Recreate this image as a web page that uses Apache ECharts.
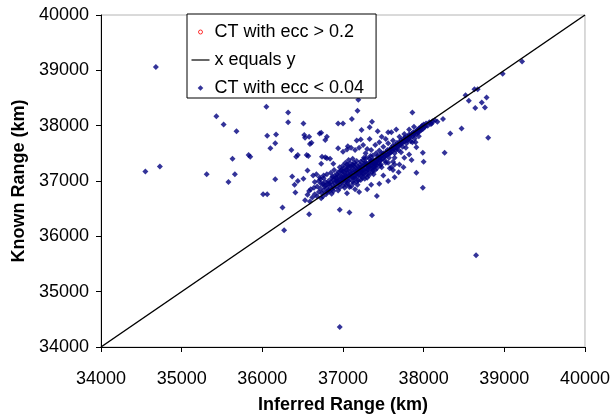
<!DOCTYPE html>
<html>
<head>
<meta charset="utf-8">
<script src="https://cdn.jsdelivr.net/npm/echarts@6/dist/echarts.min.js"></script>
<style>
  html, body { margin: 0; padding: 0; background: #fff; }
  #chart { width: 613px; height: 419px; }
</style>
</head>
<body>
<div id="chart"></div>
<script>
// axis ticks (km)
const xTicks = [34000, 35000, 36000, 37000, 38000, 39000, 40000];
const yTicks = [34000, 35000, 36000, 37000, 38000, 39000, 40000];

// reference line x = y
const lineEnds = [[34000, 34000], [40000, 40000]];

// CT with ecc > 0.2 (nothing visible inside the plotted range)
const ctHighEcc = [];

// CT with ecc < 0.04 -- [inferred, known]
// scattered points away from the main band
const outerPoints = [
  [34680, 39060], [34550, 37170], [34730, 37260], [35430, 38170], [35520, 38020],
  [35680, 37900], [35310, 37120], [35580, 36980], [35660, 37120], [35630, 37400],
  [35830, 37470], [35850, 37440], [36050, 38340], [36320, 38240], [36320, 38060],
  [36060, 37820], [36170, 37840], [36100, 37590], [36160, 37680], [36160, 37030],
  [36010, 36760], [36060, 36760], [36250, 36520], [36270, 36110], [36510, 38040],
  [36580, 37800], [36530, 37780], [36590, 37670], [36710, 37860], [36800, 37800],
  [36360, 37560], [36440, 37470], [36420, 37440], [36370, 37080], [36400, 36930],
  [36440, 37000], [36510, 37040], [36940, 38040], [37000, 38040], [37110, 38120],
  [37190, 38470], [37180, 38270], [37230, 37920], [37360, 38070], [37330, 37970],
  [37430, 37900], [37860, 38240], [38240, 38120], [38100, 38040], [38470, 37950],
  [38330, 37860], [38520, 38550], [38630, 38660], [38670, 38660], [38560, 38450],
  [36730, 37870], [36520, 37830], [36610, 37690], [36780, 37740], [37220, 37750],
  [37170, 37730], [37330, 37760], [37560, 37880], [37600, 37880], [37660, 37930],
  [37900, 37700], [37910, 37610], [37990, 37510], [38260, 37510], [38000, 37350],
  [37910, 37150], [37990, 36880], [37640, 37070], [37560, 37000], [37420, 36730],
  [37360, 36380], [37080, 36430], [36960, 36480], [36580, 36400], [36730, 36690],
  [36750, 36720], [38650, 35660], [36960, 34360], [38800, 37780], [38780, 38510],
  [38760, 38330], [38980, 38940], [39220, 39160], [38720, 38420], [38640, 38320]
];

// halo of points on both sides of the band
const haloPoints = [
  [36570, 37450], [36560, 37190], [36730, 37310], [36780, 37430], [36840, 37400],
  [36880, 37310], [36630, 37100], [36670, 37120], [36710, 37070], [36760, 37100],
  [36800, 37120], [36650, 36980], [36730, 36950], [36780, 36920], [36410, 36790],
  [36530, 36650], [36590, 36630], [36820, 36830], [36860, 36770], [36550, 37470],
  [36740, 37440], [36800, 37410], [36940, 37590], [37000, 37530], [37050, 37570],
  [37150, 37560], [37200, 37600], [37300, 37580], [37060, 37630], [37100, 37600],
  [37250, 37650], [37400, 37650], [37450, 37700], [37350, 37560], [37280, 37500],
  [37480, 37800], [37530, 37760], [37300, 36850], [37200, 36800], [37450, 36950],
  [37350, 36930], [37500, 37100], [37150, 36850], [37050, 36780], [37700, 37300],
  [37760, 37420], [37820, 37480], [37850, 37380], [37620, 37200], [37690, 37160],
  [37750, 37250], [37620, 37350], [37640, 37300], [37600, 37250], [37580, 37230],
  [36700, 37000], [36680, 36900], [36720, 37030], [36760, 37050], [36600, 36850],
  [36640, 36880], [36560, 36750], [36580, 36820]
];

// dense band, lower part
const coreLower = [
  [36620, 36700], [36650, 36760], [36680, 36720], [36700, 36800], [36720, 36860],
  [36740, 36780], [36760, 36830], [36770, 36900], [36790, 36760], [36800, 36870],
  [36810, 36950], [36830, 36810], [36840, 36900], [36850, 36980], [36860, 36850],
  [36870, 36930], [36880, 37020], [36890, 36880], [36900, 36960], [36910, 37060],
  [36920, 36900], [36930, 37000], [36940, 36830], [36950, 37090], [36960, 36940],
  [36970, 37030], [36980, 36980], [36990, 37130], [37000, 36920], [36980, 37200],
  [36940, 37160], [36900, 37100], [36860, 37050], [36820, 37000], [36780, 36980],
  [36750, 36950], [37030, 37330], [37070, 37380], [37120, 37400], [37000, 37280],
  [36960, 37250], [36830, 36950], [36870, 37080], [36910, 37000], [36950, 37010],
  [36990, 37050], [36850, 37150], [36890, 37200], [36930, 37120], [36970, 37180],
  [36800, 36800], [36880, 36820], [36960, 36880], [36920, 37050], [36940, 36970],
  [36980, 37080]
];

// dense band, middle part
const coreMiddle = [
  [37010, 37050], [37020, 37150], [37030, 36990], [37040, 37080], [37050, 37200],
  [37060, 36950], [37070, 37110], [37080, 37030], [37090, 37170], [37100, 37260],
  [37110, 37080], [37120, 36990], [37130, 37140], [37140, 37210], [37150, 37050],
  [37160, 37300], [37170, 37120], [37180, 37190], [37190, 37010], [37200, 37240],
  [37210, 37150], [37220, 37350], [37230, 37090], [37240, 37200], [37250, 37270],
  [37260, 37130], [37270, 37040], [37280, 37230], [37290, 37310], [37300, 37180],
  [37310, 37260], [37320, 37100], [37330, 37340], [37340, 37220], [37350, 37290],
  [37360, 37160], [37370, 37380], [37380, 37250], [37390, 37320], [37400, 37200],
  [37020, 36880], [37060, 37260], [37100, 36900], [37140, 37330], [37180, 36930],
  [37220, 37020], [37260, 37420], [37300, 37060], [37340, 37450], [37380, 37120],
  [37030, 37100], [37070, 37000], [37110, 37190], [37150, 37130], [37190, 37250],
  [37230, 37170], [37270, 37310], [37310, 37210], [37350, 37360], [37390, 37260],
  [37010, 37230], [37050, 37300], [37090, 37320], [37130, 37280], [37170, 37360],
  [37210, 37300], [37250, 37380], [37290, 37420], [37330, 37400], [37370, 37460],
  [37040, 36930], [37080, 36890], [37130, 36960], [37170, 36990], [37240, 37060],
  [37280, 37110], [37320, 37140], [37370, 37190], [37000, 37170], [37040, 37210],
  [37080, 37250], [37120, 37290], [37160, 37230], [37200, 37190], [37240, 37140],
  [37280, 37180], [37320, 37290], [37360, 37330], [37400, 37380], [37000, 37000],
  [37040, 37020], [37080, 37090], [37120, 37060], [37160, 37170], [37200, 37110],
  [37240, 37270], [37280, 37340], [37320, 37250], [37360, 37240], [37400, 37300],
  [37020, 37070], [37060, 37150], [37100, 37120], [37140, 37060], [37180, 37080],
  [37220, 37220], [37260, 37210], [37300, 37270], [37340, 37310], [37380, 37350]
];

// dense band, upper part
const coreUpper = [
  [37410, 37350], [37420, 37290], [37430, 37400], [37440, 37330], [37450, 37440],
  [37460, 37370], [37470, 37300], [37480, 37460], [37490, 37400], [37500, 37500],
  [37510, 37430], [37520, 37370], [37530, 37520], [37540, 37460], [37550, 37560],
  [37560, 37490], [37570, 37420], [37580, 37570], [37590, 37510], [37600, 37600],
  [37610, 37540], [37620, 37640], [37630, 37580], [37640, 37500], [37650, 37650],
  [37660, 37600], [37670, 37690], [37680, 37630], [37690, 37560], [37700, 37700],
  [37710, 37660], [37720, 37740], [37730, 37680], [37740, 37620], [37750, 37760],
  [37760, 37710], [37770, 37790], [37780, 37740], [37790, 37680], [37800, 37800],
  [37810, 37760], [37820, 37840], [37830, 37780], [37840, 37720], [37850, 37850],
  [37860, 37810], [37870, 37880], [37880, 37830], [37890, 37770], [37900, 37890],
  [37910, 37850], [37920, 37920], [37930, 37870], [37940, 37950], [37950, 37900],
  [37960, 37960], [37970, 37920], [37980, 38000], [37990, 37940], [38000, 38020],
  [38010, 37970], [38030, 38040], [38050, 38000], [38070, 38060], [38090, 38030],
  [38110, 38080], [38140, 38100], [38170, 38070], [37450, 37550], [37500, 37620],
  [37560, 37680], [37620, 37730], [37700, 37800], [37760, 37850], [37820, 37930],
  [37880, 37980], [37480, 37250], [37560, 37330], [37640, 37420], [37720, 37520],
  [37780, 37600], [37860, 37700], [37940, 37810], [37430, 37450], [37470, 37380],
  [37410, 37500], [37420, 37230], [37460, 37280], [37530, 37330], [37520, 37450],
  [37580, 37500], [37610, 37580], [37660, 37560], [37700, 37640], [37740, 37700],
  [37800, 37730], [37830, 37820], [37880, 37860], [37920, 37890], [37970, 37980],
  [38020, 37990], [37440, 37420], [37480, 37500], [37420, 37340], [37460, 37420]
];

const ctLowEcc = outerPoints.concat(haloPoints, coreLower, coreMiddle, coreUpper);

const font = 'Liberation Sans, Arial, sans-serif';
const chart = echarts.init(document.getElementById('chart'));
chart.setOption({
    animation: false,
    backgroundColor: '#fff',
    grid: {
        left: 101, right: 28, top: 15, bottom: 69,
        show: true, borderColor: '#b4b4b4', borderWidth: 1
    },
    legend: {
        orient: 'vertical',
        left: 187, top: 14,
        padding: [8, 12, 0, 4],
        itemGap: 8,
        itemWidth: 18,
        itemHeight: 8,
        backgroundColor: '#fff',
        borderColor: '#000',
        borderWidth: 1,
        textStyle: { fontFamily: font, fontSize: 18, color: '#000', lineHeight: 20 },
        data: [
            { name: 'CT with ecc > 0.2',
              icon: 'path://M0,0M18,8M7,4a2,2 0 1,0 4,0a2,2 0 1,0 -4,0Z',
              itemStyle: { color: '#fff', borderColor: '#ff0000', borderWidth: 1 } },
            { name: 'x equals y',
              icon: 'path://M0,0M18,8M0,3.4H18V4.6H0Z',
              itemStyle: { color: '#000', borderWidth: 0 } },
            { name: 'CT with ecc < 0.04',
              icon: 'path://M0,0M18,8M9,1.2L11.8,4L9,6.8L6.2,4Z',
              itemStyle: { color: '#000080', borderWidth: 0 } }
        ]
    },
    xAxis: {
        type: 'value',
        min: xTicks[0], max: xTicks[xTicks.length - 1], interval: 1000,
        name: 'Inferred Range (km)',
        nameLocation: 'middle',
        nameGap: 49,
        nameTextStyle: { fontFamily: font, fontSize: 18, fontWeight: 'bold', color: '#000' },
        axisLine: { lineStyle: { color: '#000', width: 1 } },
        axisTick: { length: 5, lineStyle: { color: '#000' } },
        axisLabel: { fontFamily: font, fontSize: 18, color: '#000', margin: 23,
                     formatter: function (v) { return String(v); } },
        splitLine: { show: false }
    },
    yAxis: {
        type: 'value',
        min: yTicks[0], max: yTicks[yTicks.length - 1], interval: 1000,
        name: 'Known Range (km)',
        nameLocation: 'middle',
        nameGap: 61,
        nameTextStyle: { fontFamily: font, fontSize: 18, fontWeight: 'bold', color: '#000' },
        axisLine: { lineStyle: { color: '#000', width: 1 } },
        axisTick: { length: 5, lineStyle: { color: '#000' } },
        axisLabel: { fontFamily: font, fontSize: 18, color: '#000', margin: 12,
                     formatter: function (v) { return String(v); } },
        splitLine: { show: false }
    },
    series: [
        {
            name: 'CT with ecc > 0.2',
            type: 'scatter',
            symbol: 'circle',
            symbolSize: 4,
            itemStyle: { color: '#fff', borderColor: '#ff0000', borderWidth: 1 },
            data: ctHighEcc
        },
        {
            name: 'x equals y',
            type: 'line',
            symbol: 'none',
            lineStyle: { color: '#000', width: 1.5 },
            itemStyle: { color: '#000' },
            data: lineEnds
        },
        {
            name: 'CT with ecc < 0.04',
            type: 'scatter',
            symbol: 'diamond',
            symbolSize: 6,
            itemStyle: { color: '#000080' },
            data: ctLowEcc
        }
    ]
});
</script>
</body>
</html>
